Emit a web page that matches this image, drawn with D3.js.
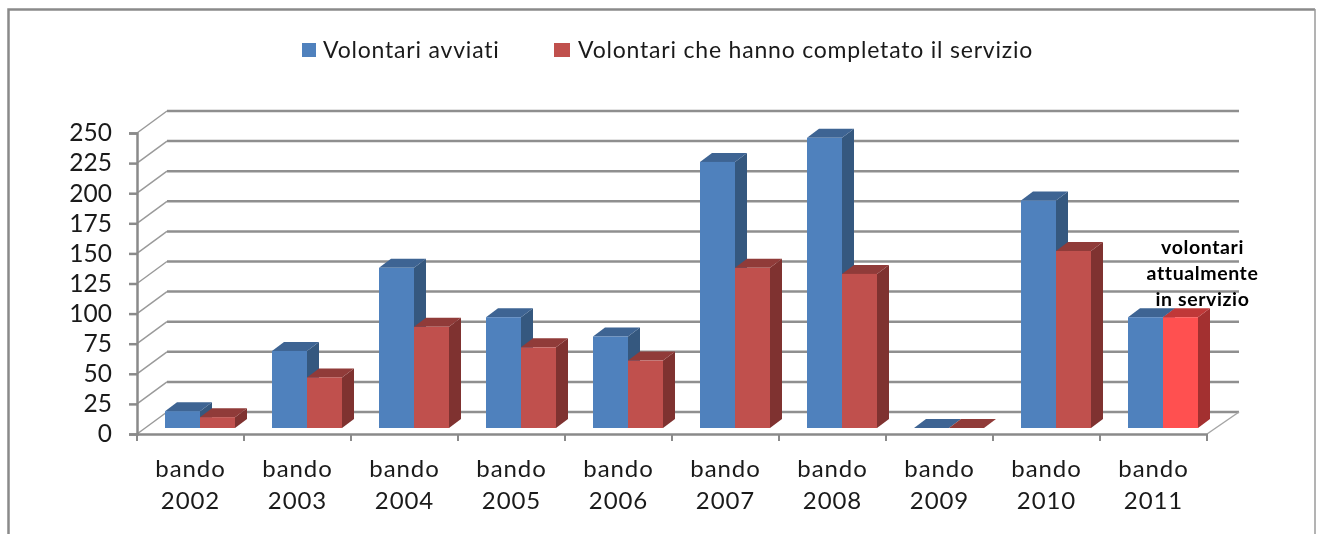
<!DOCTYPE html>
<html>
<head>
<meta charset="utf-8">
<script src="https://d3js.org/d3.v7.min.js"></script>
<style>
body { margin: 0; background: #fff; }
svg { filter: blur(0.45px); }
text { font-family: Lato, sans-serif; fill: #1a1a1a; }
</style>
</head>
<body>
<script>
var categories = ["2002","2003","2004","2005","2006","2007","2008","2009","2010","2011"];
var avviati = [14,64,133,92,76,221,241,0,189,92];
var completato = [9,42,84,67,56,133,128,0,147,92];
var yTicks = [0,25,50,75,100,125,150,175,200,225,250];
var seriesNames = ["Volontari avviati","Volontari che hanno completato il servizio"];
var noteLines = ["volontari","attualmente","in servizio"];

var svg = d3.select("body").append("svg").attr("width",1321).attr("height",534).style("display","block");

// frame
svg.append("path").attr("d","M8.5,534V9.5H1315").attr("fill","none").attr("stroke","#8a8a8a").attr("stroke-width",2.5);
svg.append("line").attr("x1",1315).attr("x2",1315).attr("y1",9).attr("y2",534).attr("stroke","#9a9a9a").attr("stroke-width",1.5);

var x = d3.scaleBand().domain(categories).range([137,1207]);
var y = d3.scaleLinear().domain([0,250]).range([434,133]);
var xs = d3.scaleBand().domain([0,1]).range([28,98]);

// 3d offsets of the back wall and of the bars
var wallX = 30, wallY = 22, barBase = 6, depthX = 12, depthY = 9;

// walls
svg.append("g").selectAll("line").data(yTicks).enter().append("line")
   .attr("x1",137+wallX).attr("x2",1239)
   .attr("y1",function(d){return y(d)-wallY;}).attr("y2",function(d){return y(d)-wallY;})
   .attr("stroke","#8f8f8f").attr("stroke-width",2.5);
svg.append("g").selectAll("line").data(yTicks).enter().append("line")
   .attr("x1",137).attr("x2",137+wallX)
   .attr("y1",function(d){return y(d);}).attr("y2",function(d){return y(d)-wallY;})
   .attr("stroke","#9a9a9a").attr("stroke-width",1.5);
svg.append("line").attr("x1",1207).attr("x2",1239).attr("y1",434).attr("y2",412)
   .attr("stroke","#a5a5a5").attr("stroke-width",1.5);

// y axis
var yAxis = svg.append("g").attr("transform","translate(137,0)")
   .call(d3.axisLeft(y).tickValues(yTicks).tickSize(8).tickPadding(17));
yAxis.selectAll("path,line").attr("stroke","#8a8a8a").attr("stroke-width",2.5);
yAxis.selectAll("text").style("font-size","24.5px").attr("font-family",null);

// x axis
var xAxis = svg.append("g").attr("transform","translate(0,434)")
   .call(d3.axisBottom(x).tickSize(0).tickPadding(0));
xAxis.select("path").attr("stroke","#8a8a8a").attr("stroke-width",2.5);
xAxis.selectAll("text").remove();
xAxis.selectAll(".tick line").remove();
var edges = categories.map(function(c){return x(c);}).concat([x.range()[1]]);
xAxis.selectAll("line.edge").data(edges).enter().append("line").attr("class","edge")
   .attr("x1",function(d){return d;}).attr("x2",function(d){return d;}).attr("y1",0).attr("y2",7)
   .attr("stroke","#8a8a8a").attr("stroke-width",2);
var catLabels = svg.append("g").selectAll("text").data(categories).enter().append("text")
   .attr("text-anchor","middle").style("font-size","24px").style("letter-spacing","0.9px")
   .attr("x",function(d){return x(d)+x.bandwidth()/2;}).attr("y",477);
catLabels.append("tspan").text("bando");
catLabels.append("tspan").attr("dy",32).attr("x",function(d){return x(d)+x.bandwidth()/2;}).text(function(d){return d;});

// bars
var colors = [
  {front:"#4f81bd",side:"#35587f",top:"#3e6493"},
  {front:"#c0504d",side:"#7f3230",top:"#903b39"}
];
var hot = {front:"#ff5050",side:"#a33030",top:"#c03838"};
function drawBar(cat,s,val,c){
  var x0 = x(cat)+xs(s), x1 = x0+xs.bandwidth();
  var y0 = y(0)-barBase, y1 = y(val)-barBase;
  svg.append("polygon").attr("fill",c.side)
     .attr("points",[[x1,y0],[x1+depthX,y0-depthY],[x1+depthX,y1-depthY],[x1,y1]].join(" "));
  svg.append("polygon").attr("fill",c.top)
     .attr("points",[[x0,y1],[x0+depthX,y1-depthY],[x1+depthX,y1-depthY],[x1,y1]].join(" "));
  svg.append("rect").attr("x",x0).attr("y",y1).attr("width",x1-x0).attr("height",y0-y1).attr("fill",c.front);
}
categories.forEach(function(cat,i){
  drawBar(cat,0,avviati[i],colors[0]);
  drawBar(cat,1,completato[i],cat=="2011"?hot:colors[1]);
});

// note over the last bars
svg.append("g").selectAll("text").data(noteLines).enter().append("text")
   .attr("text-anchor","middle").attr("x",1202.5)
   .attr("y",function(d,i){return 254+i*25.8;})
   .style("font-size","19.5px").style("font-weight","bold").style("fill","#000").style("letter-spacing","0.6px")
   .text(function(d){return d;});

// legend
var legendX = [302,554];
var legend = svg.append("g").selectAll("g").data(seriesNames).enter().append("g")
   .attr("transform",function(d,i){return "translate("+legendX[i]+",43)";});
legend.append("rect").attr("width",function(d,i){return i?16:14;}).attr("height",14).attr("fill",function(d,i){return colors[i].front;});
legend.append("text").attr("x",function(d,i){return i?24:21;}).attr("y",15).style("font-size","23px").style("letter-spacing","0.8px").text(function(d){return d;});
</script>
</body>
</html>
